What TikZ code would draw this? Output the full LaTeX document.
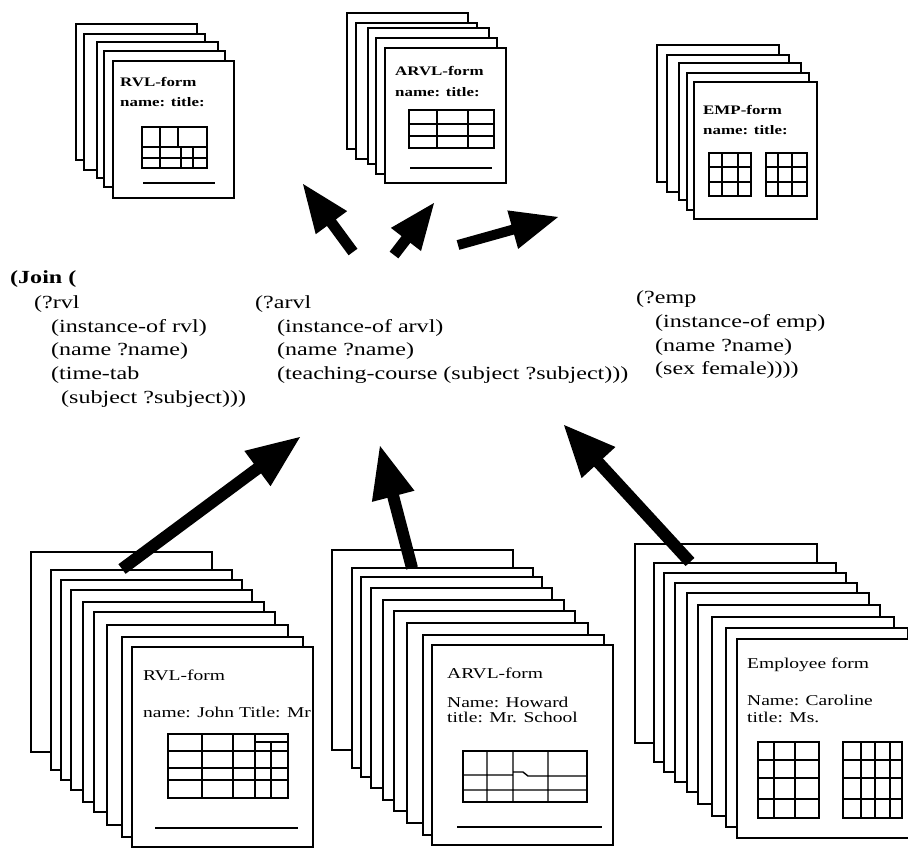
\documentclass[tikz,border=0pt]{standalone}
\usepackage{fontspec}
\setmainfont{Liberation Serif}[FakeStretch=1.3]
\usetikzlibrary{calc}

% Fat filled arrow: #1 tail, #2 tip, #3 half shaft width, #4 head length, #5 half head width
\newcommand{\fatarrow}[5]{%
  \coordinate (fa base) at ($(#2)!#4!(#1)$);
  \fill ($(#1)!#3!90:(#2)$) -- ($(fa base)!#3!90:(#2)$) -- ($(fa base)!#5!90:(#2)$)
    -- (#2) -- ($(fa base)!#5!-90:(#2)$) -- ($(fa base)!#3!-90:(#2)$)
    -- ($(#1)!#3!-90:(#2)$) -- cycle;
}

\begin{document}
\begin{tikzpicture}[x=1pt,y=-1pt,
  sheet/.style={draw=black, fill=white, line width=1.5pt},
  front/.style={sheet, anchor=north west, inner sep=0pt, outer sep=0pt},
  rule/.style={line width=1.4pt},
  query/.style={anchor=base west, inner sep=0pt, font=\fontsize{18.5}{22}\selectfont},
  tag/.style={anchor=base west, inner sep=0pt, font=\bfseries\fontsize{13}{15}\selectfont},
  entry/.style={anchor=base west, inner sep=0pt, font=\fontsize{15}{17}\selectfont},
]
\useasboundingbox (0,0) rectangle (908,849);
\clip (0,0) rectangle (908,849);

% ---------- result stacks (top) ----------
% RVL result forms
\foreach \sx/\sy in {76/24, 84/34, 97/42, 104/51}
  \draw[sheet] (\sx,\sy) rectangle ++(121,136);
\node[front, minimum width=121pt, minimum height=137pt] (rvltop) at (113,61) {};
\node[tag] (rvltoptitle) at (120,86) {RVL-form};
\node[tag] (rvltopname) at (120,106) {name: title:};
\draw[rule] (142,127) rectangle (207,168);
\draw[rule] (142,147) -- (207,147) (142,158) -- (207,158)
  (160,127) -- (160,168) (178,127) -- (178,147)
  (181,147) -- (181,168) (193,147) -- (193,168);
\draw[rule] (143,183) -- (215,183);

% ARVL result forms
\foreach \sx/\sy in {347/13, 356/23, 368/28, 376/38}
  \draw[sheet] (\sx,\sy) rectangle ++(121,136);
\node[front, minimum width=121pt, minimum height=135pt] (arvltop) at (385,48) {};
\node[tag] (arvltoptitle) at (395,75) {ARVL-form};
\node[tag] (arvltopname) at (395,96) {name: title:};
\draw[rule] (409,110) rectangle (494,148);
\draw[rule] (409,124) -- (494,124) (409,136) -- (494,136)
  (437,110) -- (437,148) (468,110) -- (468,148);
\draw[rule] (410,168) -- (492,168);

% EMP result forms
\foreach \sx/\sy in {657/45, 667/55, 679/63, 687/73}
  \draw[sheet] (\sx,\sy) rectangle ++(122,137);
\node[front, minimum width=123pt, minimum height=137pt] (emptop) at (694,82) {};
\node[tag] (emptoptitle) at (703,114) {EMP-form};
\node[tag] (emptopname) at (703,134) {name: title:};
\draw[rule] (709,153) rectangle (751,196);
\draw[rule] (709,167) -- (751,167) (709,182) -- (751,182)
  (722,153) -- (722,196) (738,153) -- (738,196);
\draw[rule] (766,153) rectangle (807,196);
\draw[rule] (766,167) -- (807,167) (766,182) -- (807,182)
  (778,153) -- (778,196) (792,153) -- (792,196);

% ---------- query ----------
\node[query, font=\bfseries\fontsize{18.5}{22}\selectfont] (join) at (10,283) {(Join (};
\node[query] (rvlvar)  at (34,308) {(?rvl};
\node[query] (rvlinst) at (51,332) {(instance-of rvl)};
\node[query] (rvlname) at (51,355) {(name ?name)};
\node[query] (rvltime) at (51,379) {(time-tab};
\node[query] (rvlsubj) at (61,403) {(subject ?subject)))};

\node[query] (arvlvar)  at (255,308) {(?arvl};
\node[query] (arvlinst) at (277,332) {(instance-of arvl)};
\node[query] (arvlname) at (277,355) {(name ?name)};
\node[query] (arvlteach) at (277,379) {(teaching-course (subject ?subject)))};

\node[query] (empvar)  at (636,303) {(?emp};
\node[query] (empinst) at (655,327) {(instance-of emp)};
\node[query] (empname) at (655,351) {(name ?name)};
\node[query] (empsex)  at (655,374) {(sex female))))};

% ---------- source stacks (bottom) ----------
% RVL forms
\foreach \sx/\sy in {31/552, 51/570, 61/580, 71/590, 83/602, 94/612, 107/625, 122/637}
  \draw[sheet] (\sx,\sy) rectangle ++(181,200);
\node[front, minimum width=181pt, minimum height=200pt] (rvlsrc) at (132,647) {};
\node[entry] (rvlsrctitle) at (143,680) {RVL-form};
\node[entry] (rvlsrcname) at (143,717) {name: John Title: Mr};
\draw[rule] (168,734) rectangle (288,798);
\draw[rule] (168,751) -- (288,751) (168,768) -- (288,768) (168,780) -- (288,780)
  (202,734) -- (202,798) (233,734) -- (233,798) (255,734) -- (255,798)
  (271,742) -- (271,798) (255,742) -- (288,742);
\draw[rule] (155,828) -- (298,828);

% ARVL forms
\foreach \sx/\sy in {332/550, 352/568, 361/577, 371/588, 383/600, 394/611, 407/623, 423/635}
  \draw[sheet] (\sx,\sy) rectangle ++(181,200);
\node[front, minimum width=181pt, minimum height=200pt] (arvlsrc) at (432,645) {};
\node[entry] (arvlsrctitle) at (447,678) {ARVL-form};
\node[entry] (arvlsrcname) at (447,707) {Name: Howard};
\node[entry] (arvlsrctitle2) at (447,722) {title: Mr. School};
\draw[rule] (463,751) rectangle (587,802);
\draw[rule] (463,775) -- (513,775) (513,772) -- (523,772) -- (528,776) -- (587,776)
  (463,790) -- (587,790)
  (487,751) -- (487,802) (513,751) -- (513,802) (548,751) -- (548,802);
\draw[rule] (457,827) -- (602,827);

% Employee forms
\foreach \sx/\sy in {635/544, 654/563, 664/573, 675/583, 687/593, 698/605, 712/617, 726/628}
  \draw[sheet] (\sx,\sy) rectangle ++(182,199);
\node[front, minimum width=182pt, minimum height=199pt] (empsrc) at (737,639) {};
\node[entry] (empsrctitle) at (747,668) {Employee form};
\node[entry] (empsrcname) at (747,705) {Name: Caroline};
\node[entry] (empsrctitle2) at (747,722) {title: Ms.};
\draw[rule] (758,742) rectangle (819,818);
\draw[rule] (758,760) -- (819,760) (758,778) -- (819,778) (758,799) -- (819,799)
  (774,742) -- (774,818) (795,742) -- (795,818);
\draw[rule] (843,742) rectangle (902,818);
\draw[rule] (843,760) -- (902,760) (843,778) -- (902,778) (843,799) -- (902,799)
  (861,742) -- (861,818) (875,742) -- (875,818) (890,742) -- (890,818);

% ---------- arrows ----------
\coordinate (q1) at (353,252); \coordinate (f1) at (303,184);
\coordinate (q2) at (394,255); \coordinate (f2) at (434,203);
\coordinate (q3) at (458,245); \coordinate (f3) at (558,217);
\fatarrow{q1}{f1}{5.5pt}{48pt}{19.5pt}
\fatarrow{q2}{f2}{5.5pt}{46pt}{19pt}
\fatarrow{q3}{f3}{5pt}{47pt}{20pt}

\coordinate (s1) at (122,569); \coordinate (p1) at (300,437);
\coordinate (s2) at (412,568); \coordinate (p2) at (380,446);
\coordinate (s3) at (690,562); \coordinate (p3) at (564,425);
\fatarrow{s1}{p1}{6pt}{53pt}{22pt}
\fatarrow{s2}{p2}{6pt}{52pt}{22pt}
\fatarrow{s3}{p3}{6pt}{51pt}{23pt}
\end{tikzpicture}
\end{document}
